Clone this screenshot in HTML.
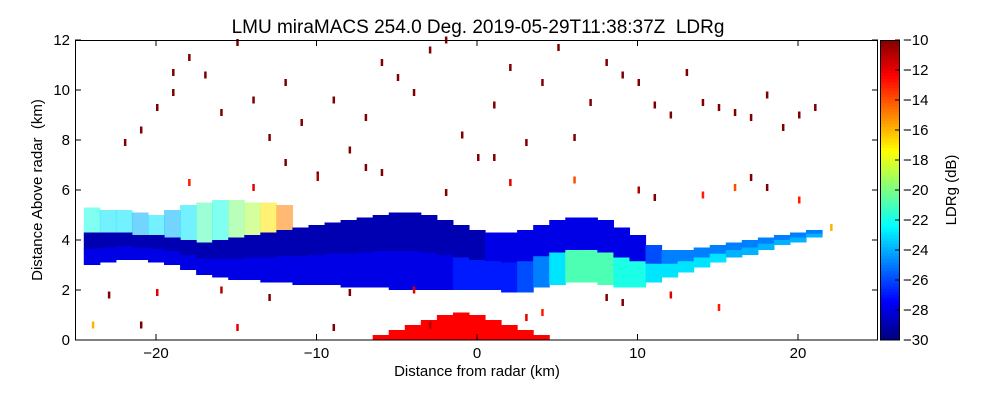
<!DOCTYPE html>
<html><head><meta charset="utf-8"><style>
body{margin:0;background:#fff;font-family:"Liberation Sans",sans-serif}
svg text{font-family:"Liberation Sans",sans-serif;fill:#000}
</style></head><body>
<svg id="chart" width="1000" height="400" xmlns="http://www.w3.org/2000/svg">
<rect width="1000" height="400" fill="#fff"/>
<text x="478" y="33" font-size="19" text-anchor="middle">LMU miraMACS 254.0 Deg. 2019-05-29T11:38:37Z&#160;&#160;LDRg</text>
<g id="plot"></g>
<g id="axes"></g>
<text x="477" y="376" font-size="15" text-anchor="middle">Distance from radar (km)</text>
<text transform="translate(42,190) rotate(-90)" font-size="15" text-anchor="middle">Distance Above radar&#160;&#160;(km)</text>
<g id="cbar"></g>
<text transform="translate(956,190) rotate(-90)" font-size="15" text-anchor="middle">LDRg (dB)</text>
</svg>
<script>
const xTicks=[-20,-10,0,10,20];
const yTicks=[0,2,4,6,8,10,12];
const cTicks=[-10,-12,-14,-16,-18,-20,-22,-24,-26,-28,-30];
const colX=[-24,-23,-22,-21,-20,-19,-18,-17,-16,-15,-14,-13,-12,-11,-10,-9,-8,-7,-6,-5,-4,-3,-2,-1,0,1,2,3,4,5,6,7,8,9,10,11,12,13,14,15,16,17,18,19,20,21];
const colBase=[3.0,3.1,3.2,3.2,3.1,3.0,2.8,2.6,2.5,2.4,2.4,2.3,2.3,2.2,2.2,2.2,2.1,2.1,2.1,2.0,2.0,2.0,2.0,2.0,2.0,2.0,1.9,1.9,2.1,2.2,2.3,2.3,2.2,2.1,2.1,2.3,2.5,2.7,2.9,3.1,3.3,3.4,3.6,3.8,3.9,4.1];
const colTop=[4.3,4.3,4.3,4.2,4.2,4.1,4.0,3.9,4.0,4.1,4.2,4.3,4.4,4.5,4.6,4.7,4.8,4.9,5.0,5.1,5.1,5.0,4.8,4.6,4.4,4.3,4.3,4.4,4.6,4.8,4.9,4.9,4.8,4.5,4.2,3.8,3.6,3.6,3.7,3.8,3.9,4.0,4.1,4.2,4.3,4.4];
const colVal=[-29,-29,-29,-29,-29,-29,-29,-29,-29,-29,-29,-29,-29,-29,-29,-29,-29,-29,-29,-29,-29,-29,-29,-29,-29,-28,-28,-28,-28,-28,-28,-28,-28,-28,-28,-26,-25,-25,-25,-25,-25,-25,-25,-25,-25,-25];
const colLowVal=[-28,-28,-28,-28,-28,-28,-28,-28,-28,-28,-28,-28,-28,-28,-28,-28,-28,-28,-28,-28,-28,-28,-28,-27,-27,-27,-27,-26,-25,-23,-21,-21,-21,-22,-22,-23,-23,-23,-23,-23,-24,-24,-24,-24,-24,-24];
const fringeX=[-24,-23,-22,-21,-20,-19,-18,-17,-16,-15,-14,-13,-12];
const fringeTop=[5.3,5.2,5.2,5.1,5.0,5.2,5.4,5.5,5.6,5.6,5.5,5.5,5.4];
const fringeVal=[-22,-23,-23,-24,-23,-24,-23,-21,-22,-20,-19,-17,-15];
const clutterX=[-6,-5,-4,-3,-2,-1,0,1,2,3,4];
const clutterTop=[0.2,0.4,0.6,0.8,1.0,1.1,1.0,0.8,0.6,0.4,0.2];
const dotX=[-22,-21,-20,-19,-19,-18,-17,-16,-15,-14,-13,-12,-12,-11,-10,-9,-8,-7,-6,-5,-4,-3,-2,-1,0,1,2,3,4,5,6,7,8,9,10,11,12,13,14,15,16,17,18,19,20,21,-18,-14,-10,-6,-2,2,6,10,14,18,20,-23,-20,-16,-8,-4,4,8,12,16,22,-21,-15,-9,-3,3,9,15,-24,-13,-7,1,11,17];
const dotY=[7.8,8.3,9.2,9.8,10.6,11.2,10.5,9.0,11.8,9.5,8.0,7.0,10.2,8.6,6.5,9.5,7.5,8.8,11.0,10.4,9.8,11.5,11.9,8.1,7.2,9.3,10.8,7.8,10.2,11.6,8.0,9.4,11.0,10.5,10.2,9.3,8.9,10.6,9.4,9.2,9.0,8.8,9.7,8.4,8.9,9.2,6.2,6.0,6.4,6.6,5.8,6.2,6.3,5.9,5.7,6.0,5.5,1.7,1.8,1.9,1.8,1.9,1.0,1.6,1.7,6.0,4.4,0.5,0.4,0.4,0.5,0.8,1.4,1.2,0.5,1.6,6.8,7.2,5.6,6.4];
const dotVal=[-10,-10,-10,-10,-10,-10,-10,-10,-10,-10,-10,-10,-10,-10,-10,-10,-10,-10,-10,-10,-10,-10,-10,-10,-10,-10,-10,-10,-10,-10,-10,-10,-10,-10,-10,-10,-10,-10,-10,-10,-10,-10,-10,-10,-10,-10,-13,-12,-11,-10,-10,-12,-14,-11,-13,-10,-13,-10,-12,-11,-10,-12,-13,-10,-12,-14,-16,-10,-12,-10,-11,-12,-10,-13,-16,-10,-10,-10,-10,-10];
const NS="http://www.w3.org/2000/svg";
const X=v=>477+v*16.05, Y=v=>340-v*25;
function jet(v){let t=(v+30)/20;t=Math.max(0,Math.min(1,t));
 const f=x=>Math.round(255*Math.max(0,Math.min(1,1.5-Math.abs(4*t-x))));
 return `rgb(${f(3)},${f(2)},${f(1)})`;}
function el(tag,attrs,parent){const e=document.createElementNS(NS,tag);for(const k in attrs)e.setAttribute(k,attrs[k]);parent.appendChild(e);return e;}
const plot=document.getElementById('plot');
fringeX.forEach((x,i)=>{const j=colX.indexOf(x);
 const r=el('rect',{x:X(x-0.5),y:Y(fringeTop[i]),width:16.6,height:Y(colTop[j])-Y(fringeTop[i]),fill:jet(fringeVal[i]),opacity:0.55},plot);
 
 });
colX.forEach((x,i)=>{
 const mid=(colTop[i]+colBase[i])/2;
 const r=el('rect',{x:X(x-0.5),y:Y(colTop[i]),width:16.6,height:Y(mid)-Y(colTop[i])+0.5,fill:jet(colVal[i])},plot);
 
 
 const r2=el('rect',{x:X(x-0.5),y:Y(mid),width:16.6,height:Y(colBase[i])-Y(mid),fill:jet(colLowVal[i])},plot);
 
 });
clutterX.forEach((x,i)=>{
 const r=el('rect',{x:X(x-0.5),y:Y(clutterTop[i]),width:16.6,height:Y(0)-Y(clutterTop[i]),fill:jet(-12.5)},plot);
 
 });
dotX.forEach((x,i)=>{
 const r=el('rect',{x:X(x),y:Y(dotY[i])-6,width:2.5,height:7,fill:jet(dotVal[i])},plot);
 
 });
const axes=document.getElementById('axes');
el('rect',{x:75.5,y:40.5,width:802,height:299.5,fill:'none',stroke:'#000','stroke-width':1},axes);
xTicks.forEach(t=>{el('line',{x1:X(t),x2:X(t),y1:340,y2:334,stroke:'#000'},axes);el('line',{x1:X(t),x2:X(t),y1:40,y2:46,stroke:'#000'},axes);
 const tx=el('text',{x:X(t),y:358,'font-size':15,'text-anchor':'middle'},axes);tx.textContent=t<0?'\u2212'+(-t):t;
 
 });
yTicks.forEach(t=>{el('line',{x1:75,x2:81,y1:Y(t),y2:Y(t),stroke:'#000'},axes);el('line',{x1:872,x2:878,y1:Y(t),y2:Y(t),stroke:'#000'},axes);
 const tx=el('text',{x:70,y:Y(t)+5,'font-size':15,'text-anchor':'end'},axes);tx.textContent=t;
 
 });
const cb=document.getElementById('cbar');
for(let k=0;k<100;k++){const v=-30+k*0.2;el('rect',{x:880,y:340-(k+1)*3,width:20,height:3.3,fill:jet(v)},cb);}
el('rect',{x:880.5,y:40.5,width:19,height:299.5,fill:'none',stroke:'#000'},cb);
cTicks.forEach(t=>{const y=340-(t+30)*15;el('line',{x1:895,x2:900,y1:y,y2:y,stroke:'#000'},cb);
 const tx=el('text',{x:903,y:y+5,'font-size':15},cb);tx.textContent='\u2212'+(-t);
 
 });
</script>
</body></html>
